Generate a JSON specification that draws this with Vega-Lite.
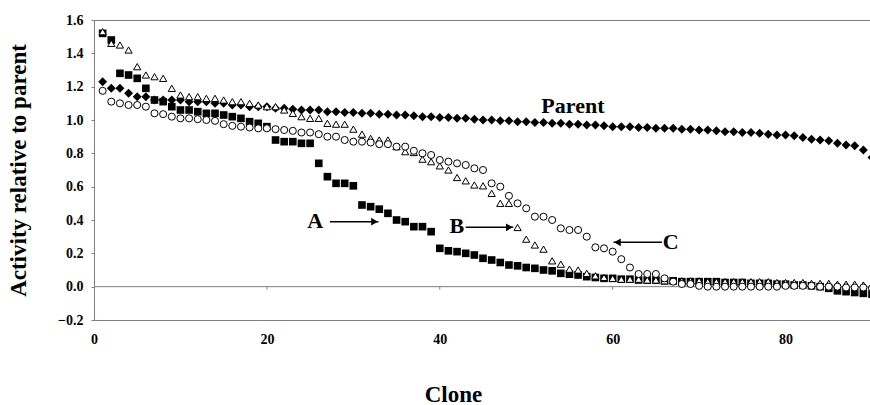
{
  "$schema": "https://vega.github.io/schema/vega-lite/v6.json",
  "width": 778,
  "height": 300,
  "autosize": {"type": "none"},
  "padding": {"left": 94, "top": 20, "right": 0, "bottom": 85},
  "background": "white",
  "config": {
    "view": {"stroke": "#7f7f7f", "strokeWidth": 1},
    "font": "Liberation Serif",
    "axis": {"labelFont": "Liberation Serif", "titleFont": "Liberation Serif", "labelFontWeight": "bold", "titleFontWeight": "bold", "labelColor": "black", "titleColor": "black", "grid": false, "domain": true, "domainColor": "#7f7f7f", "tickColor": "#7f7f7f", "labelOverlap": false, "labelFlush": false}
  },
  "datasets": {
    "clones": [
      {"clone":1,"Parent":1.23,"A":1.52,"B":1.53,"C":1.175},
      {"clone":2,"Parent":1.19,"A":1.48,"B":1.46,"C":1.11},
      {"clone":3,"Parent":1.19,"A":1.28,"B":1.45,"C":1.10},
      {"clone":4,"Parent":1.16,"A":1.27,"B":1.42,"C":1.09},
      {"clone":5,"Parent":1.14,"A":1.25,"B":1.32,"C":1.09},
      {"clone":6,"Parent":1.14,"A":1.19,"B":1.27,"C":1.08},
      {"clone":7,"Parent":1.12,"A":1.12,"B":1.26,"C":1.04},
      {"clone":8,"Parent":1.12,"A":1.11,"B":1.25,"C":1.035},
      {"clone":9,"Parent":1.12,"A":1.08,"B":1.19,"C":1.02},
      {"clone":10,"Parent":1.12,"A":1.06,"B":1.15,"C":1.01},
      {"clone":11,"Parent":1.11,"A":1.06,"B":1.14,"C":1.01},
      {"clone":12,"Parent":1.11,"A":1.05,"B":1.14,"C":1.005},
      {"clone":13,"Parent":1.11,"A":1.04,"B":1.13,"C":1.0},
      {"clone":14,"Parent":1.10,"A":1.04,"B":1.13,"C":0.995},
      {"clone":15,"Parent":1.10,"A":1.03,"B":1.12,"C":0.975},
      {"clone":16,"Parent":1.09,"A":1.02,"B":1.11,"C":0.965},
      {"clone":17,"Parent":1.09,"A":1.01,"B":1.11,"C":0.96},
      {"clone":18,"Parent":1.08,"A":0.99,"B":1.10,"C":0.955},
      {"clone":19,"Parent":1.08,"A":0.98,"B":1.09,"C":0.95},
      {"clone":20,"Parent":1.08,"A":0.96,"B":1.08,"C":0.95},
      {"clone":21,"Parent":1.07,"A":0.88,"B":1.08,"C":0.945},
      {"clone":22,"Parent":1.07,"A":0.87,"B":1.06,"C":0.94},
      {"clone":23,"Parent":1.065,"A":0.87,"B":1.04,"C":0.935},
      {"clone":24,"Parent":1.06,"A":0.86,"B":1.02,"C":0.925},
      {"clone":25,"Parent":1.06,"A":0.86,"B":1.01,"C":0.925},
      {"clone":26,"Parent":1.06,"A":0.74,"B":1.01,"C":0.915},
      {"clone":27,"Parent":1.05,"A":0.66,"B":0.98,"C":0.90},
      {"clone":28,"Parent":1.05,"A":0.62,"B":0.975,"C":0.90},
      {"clone":29,"Parent":1.045,"A":0.62,"B":0.975,"C":0.88},
      {"clone":30,"Parent":1.045,"A":0.605,"B":0.945,"C":0.87},
      {"clone":31,"Parent":1.04,"A":0.49,"B":0.915,"C":0.87},
      {"clone":32,"Parent":1.04,"A":0.48,"B":0.89,"C":0.865},
      {"clone":33,"Parent":1.035,"A":0.465,"B":0.88,"C":0.855},
      {"clone":34,"Parent":1.035,"A":0.44,"B":0.88,"C":0.855},
      {"clone":35,"Parent":1.03,"A":0.40,"B":0.84,"C":0.84},
      {"clone":36,"Parent":1.03,"A":0.39,"B":0.81,"C":0.84},
      {"clone":37,"Parent":1.025,"A":0.36,"B":0.805,"C":0.815},
      {"clone":38,"Parent":1.02,"A":0.36,"B":0.765,"C":0.80},
      {"clone":39,"Parent":1.02,"A":0.33,"B":0.75,"C":0.79},
      {"clone":40,"Parent":1.015,"A":0.23,"B":0.725,"C":0.76},
      {"clone":41,"Parent":1.015,"A":0.215,"B":0.70,"C":0.75},
      {"clone":42,"Parent":1.01,"A":0.21,"B":0.655,"C":0.74},
      {"clone":43,"Parent":1.01,"A":0.20,"B":0.635,"C":0.73},
      {"clone":44,"Parent":1.005,"A":0.19,"B":0.61,"C":0.71},
      {"clone":45,"Parent":1.0,"A":0.17,"B":0.605,"C":0.70},
      {"clone":46,"Parent":1.0,"A":0.16,"B":0.56,"C":0.62},
      {"clone":47,"Parent":0.995,"A":0.145,"B":0.50,"C":0.60},
      {"clone":48,"Parent":0.995,"A":0.13,"B":0.50,"C":0.545},
      {"clone":49,"Parent":0.99,"A":0.125,"B":0.355,"C":0.50},
      {"clone":50,"Parent":0.99,"A":0.115,"B":0.285,"C":0.47},
      {"clone":51,"Parent":0.985,"A":0.11,"B":0.25,"C":0.42},
      {"clone":52,"Parent":0.985,"A":0.10,"B":0.225,"C":0.42},
      {"clone":53,"Parent":0.98,"A":0.095,"B":0.155,"C":0.40},
      {"clone":54,"Parent":0.98,"A":0.08,"B":0.135,"C":0.35},
      {"clone":55,"Parent":0.975,"A":0.075,"B":0.105,"C":0.34},
      {"clone":56,"Parent":0.975,"A":0.07,"B":0.10,"C":0.34},
      {"clone":57,"Parent":0.97,"A":0.06,"B":0.08,"C":0.30},
      {"clone":58,"Parent":0.97,"A":0.055,"B":0.065,"C":0.236},
      {"clone":59,"Parent":0.965,"A":0.05,"B":0.055,"C":0.23},
      {"clone":60,"Parent":0.96,"A":0.05,"B":0.05,"C":0.21},
      {"clone":61,"Parent":0.96,"A":0.045,"B":0.045,"C":0.165},
      {"clone":62,"Parent":0.96,"A":0.045,"B":0.045,"C":0.115},
      {"clone":63,"Parent":0.955,"A":0.04,"B":0.045,"C":0.076},
      {"clone":64,"Parent":0.955,"A":0.04,"B":0.04,"C":0.076},
      {"clone":65,"Parent":0.95,"A":0.04,"B":0.04,"C":0.076},
      {"clone":66,"Parent":0.95,"A":0.035,"B":0.035,"C":0.05},
      {"clone":67,"Parent":0.95,"A":0.035,"B":0.035,"C":0.03},
      {"clone":68,"Parent":0.945,"A":0.03,"B":0.035,"C":0.016},
      {"clone":69,"Parent":0.945,"A":0.03,"B":0.035,"C":0.016},
      {"clone":70,"Parent":0.94,"A":0.03,"B":0.035,"C":0.005},
      {"clone":71,"Parent":0.94,"A":0.03,"B":0.03,"C":0.0},
      {"clone":72,"Parent":0.935,"A":0.03,"B":0.03,"C":0.0},
      {"clone":73,"Parent":0.93,"A":0.025,"B":0.03,"C":0.0},
      {"clone":74,"Parent":0.93,"A":0.025,"B":0.03,"C":0.0},
      {"clone":75,"Parent":0.925,"A":0.025,"B":0.03,"C":0.0},
      {"clone":76,"Parent":0.925,"A":0.02,"B":0.03,"C":0.0},
      {"clone":77,"Parent":0.92,"A":0.02,"B":0.03,"C":0.0},
      {"clone":78,"Parent":0.915,"A":0.02,"B":0.03,"C":0.0},
      {"clone":79,"Parent":0.91,"A":0.015,"B":0.025,"C":0.0},
      {"clone":80,"Parent":0.91,"A":0.015,"B":0.025,"C":0.005},
      {"clone":81,"Parent":0.905,"A":0.01,"B":0.025,"C":0.005},
      {"clone":82,"Parent":0.895,"A":0.01,"B":0.025,"C":0.005},
      {"clone":83,"Parent":0.885,"A":0.005,"B":0.02,"C":0.005},
      {"clone":84,"Parent":0.88,"A":0.0,"B":0.02,"C":0.0},
      {"clone":85,"Parent":0.875,"A":-0.01,"B":0.02,"C":0.0},
      {"clone":86,"Parent":0.86,"A":-0.025,"B":0.015,"C":0.0},
      {"clone":87,"Parent":0.85,"A":-0.03,"B":0.015,"C":-0.005},
      {"clone":88,"Parent":0.845,"A":-0.035,"B":0.015,"C":-0.005},
      {"clone":89,"Parent":0.82,"A":-0.04,"B":0.01,"C":-0.005},
      {"clone":90,"Parent":0.775,"A":-0.045,"B":0.01,"C":-0.01}
    ],
    "notes": [
      {"label":"A","clone":25.6,"activity":0.35},
      {"label":"B","clone":41.96,"activity":0.32},
      {"label":"C","clone":66.7,"activity":0.228},
      {"label":"Parent","clone":55.4,"activity":1.044}
    ],
    "arrows": [
      {"from":27.3,"to":32.9,"head":32.45,"activity":0.39,"dir":"right"},
      {"from":43.0,"to":48.5,"head":48.05,"activity":0.356,"dir":"right"},
      {"from":65.7,"to":60.1,"head":60.55,"activity":0.266,"dir":"left"}
    ],
    "zeroline": [{"clone":0,"end":90,"activity":0}],
    "zeroticks": [{"clone":20},{"clone":40},{"clone":60},{"clone":80}]
  },
  "encoding": {
    "x": {
      "type": "quantitative",
      "scale": {"domain": [0, 90], "nice": false},
      "axis": {"values": [0, 20, 40, 60, 80], "ticks": false, "labelPadding": 12, "labelFontSize": 14, "labelOverlap": false, "title": "Clone", "titleFontSize": 23, "titleX": 359, "titleY": 81, "titleBaseline": "alphabetic", "titleAlign": "center", "titleAnchor": null}
    },
    "y": {
      "type": "quantitative",
      "scale": {"domain": [-0.2, 1.6], "nice": false, "zero": false},
      "axis": {"values": [-0.2, 0, 0.2, 0.4, 0.6, 0.8, 1.0, 1.2, 1.4, 1.6], "format": ".1f", "tickSize": 3, "labelPadding": 8, "labelFontSize": 14, "labelOverlap": false, "labelBound": false, "title": "Activity relative to parent", "titleFontSize": 23, "titleX": -76, "titleY": 150, "titleAngle": -90, "titleBaseline": "middle", "titleAlign": "center"}
    }
  },
  "layer": [
    {
      "data": {"name": "zeroline"},
      "mark": {"type": "rule", "color": "#7f7f7f", "strokeWidth": 1},
      "encoding": {
        "x": {"field": "clone", "type": "quantitative"},
        "x2": {"field": "end"},
        "y": {"field": "activity", "type": "quantitative"}
      }
    },
    {
      "data": {"name": "zeroticks"},
      "mark": {"type": "rule", "color": "#7f7f7f", "strokeWidth": 1},
      "encoding": {
        "x": {"field": "clone", "type": "quantitative"},
        "y": {"datum": 0, "type": "quantitative"},
        "y2": {"datum": -0.018}
      }
    },
    {
      "data": {"name": "clones"},
      "transform": [{"fold": ["Parent", "A", "B", "C"], "as": ["series", "activity"]}],
      "encoding": {
        "x": {"field": "clone", "type": "quantitative"},
        "y": {"field": "activity", "type": "quantitative"}
      },
      "layer": [
        {
          "transform": [{"filter": "datum.series === 'Parent'"}],
          "mark": {"type": "point", "shape": "diamond", "filled": true, "color": "black", "size": 80, "opacity": 1}
        },
        {
          "transform": [{"filter": "datum.series === 'A'"}],
          "mark": {"type": "point", "shape": "square", "filled": true, "color": "black", "size": 58, "opacity": 1}
        },
        {
          "transform": [{"filter": "datum.series === 'B'"}],
          "mark": {"type": "point", "shape": "triangle-up", "fill": "white", "stroke": "black", "strokeWidth": 1, "size": 52, "opacity": 1, "fillOpacity": 1}
        },
        {
          "transform": [{"filter": "datum.series === 'C'"}],
          "mark": {"type": "point", "shape": "circle", "fill": "white", "stroke": "black", "strokeWidth": 1, "size": 50, "opacity": 1, "fillOpacity": 1}
        }
      ]
    },
    {
      "data": {"name": "arrows"},
      "mark": {"type": "rule", "color": "black", "strokeWidth": 1.5},
      "encoding": {
        "x": {"field": "from", "type": "quantitative"},
        "x2": {"field": "to"},
        "y": {"field": "activity", "type": "quantitative"}
      }
    },
    {
      "data": {"name": "arrows"},
      "mark": {"type": "point", "filled": true, "color": "black", "size": 60, "opacity": 1},
      "encoding": {
        "x": {"field": "head", "type": "quantitative"},
        "y": {"field": "activity", "type": "quantitative"},
        "shape": {"field": "dir", "type": "nominal", "scale": {"domain": ["right", "left"], "range": ["triangle-right", "triangle-left"]}, "legend": null}
      }
    },
    {
      "data": {"name": "notes"},
      "mark": {"type": "text", "font": "Liberation Serif", "fontWeight": "bold", "fontSize": 22, "color": "black", "align": "center", "baseline": "alphabetic"},
      "encoding": {
        "x": {"field": "clone", "type": "quantitative"},
        "y": {"field": "activity", "type": "quantitative"},
        "text": {"field": "label"}
      }
    }
  ]
}
